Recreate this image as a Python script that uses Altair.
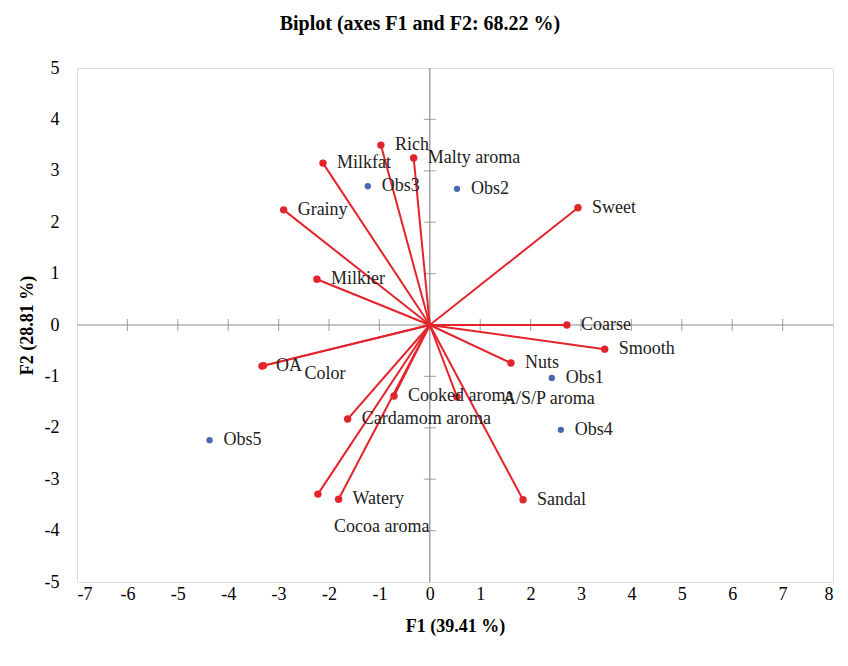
import altair as alt
import pandas as pd

# Variables (red vectors)
var_names = ["Rich", "Malty aroma", "Milkfat", "Grainy", "Milkier", "Sweet", "Coarse",
             "Smooth", "Nuts", "A/S/P aroma", "Cooked aroma", "Cardamom aroma", "OA",
             "Color", "Watery", "Cocoa aroma", "Sandal"]
var_f1 = [-0.97, -0.32, -2.12, -2.90, -2.24, 2.94, 2.72, 3.47, 1.61, 0.54, -0.71, -1.63,
          -3.33, -3.30, -1.81, -2.22, 1.85]
var_f2 = [3.50, 3.25, 3.15, 2.24, 0.89, 2.28, 0.00, -0.47, -0.74, -1.40, -1.38, -1.83,
          -0.80, -0.79, -3.39, -3.29, -3.40]

# Observations (blue points)
obs_names = ["Obs1", "Obs2", "Obs3", "Obs4", "Obs5"]
obs_f1 = [2.42, 0.54, -1.23, 2.60, -4.37]
obs_f2 = [-1.03, 2.65, 2.70, -2.04, -2.24]

x_ticks = list(range(-7, 9))
y_ticks = list(range(-5, 6))
inner_x_ticks = list(range(-6, 8))
inner_y_ticks = list(range(-4, 5))

# label placement tweaks (pixels) for crowded labels
label_shift = {"Color": (41, 8), "A/S/P aroma": (46, 2), "Cocoa aroma": (16, 33)}

FONT = "Liberation Serif"
RED = "#e3242b"
BLUE = "#4a68b0"
GRAY = "#8c8c8c"

var_df = pd.DataFrame({"name": var_names, "f1": var_f1, "f2": var_f2})
obs_df = pd.DataFrame({"name": obs_names, "f1": obs_f1, "f2": obs_f2})

xs = alt.Scale(domain=[-7, 8], nice=False, zero=False)
ys = alt.Scale(domain=[-5, 5], nice=False, zero=False)

X = alt.X("f1:Q", scale=xs, title="F1 (39.41 %)",
          axis=alt.Axis(values=x_ticks, grid=False, ticks=False, domain=False,
                        labelFont=FONT, labelFontSize=18, labelColor="black",
                        labelPadding=3, labelExpr="'' + datum.value",
                        titleFont=FONT, titleFontSize=18, titleFontWeight="bold",
                        titleColor="black", titlePadding=14))
Y = alt.Y("f2:Q", scale=ys, title="F2 (28.81 %)",
          axis=alt.Axis(values=y_ticks, grid=False, ticks=False, domain=False,
                        labelFont=FONT, labelFontSize=18, labelColor="black",
                        labelPadding=18, labelExpr="'' + datum.value",
                        titleFont=FONT, titleFontSize=18, titleFontWeight="bold",
                        titleColor="black", titlePadding=8))

zero_df = pd.DataFrame({"f1": [0], "f2": [0]})
zero_v = alt.Chart(zero_df).mark_rule(color=GRAY, strokeWidth=1.2).encode(x=X)
zero_h = alt.Chart(zero_df).mark_rule(color=GRAY, strokeWidth=1.2).encode(y=Y)

xt = alt.Chart(pd.DataFrame({"f1": inner_x_ticks, "f2": [0] * len(inner_x_ticks)})).mark_tick(
    color=GRAY, orient="vertical", size=12, thickness=1.2).encode(x=X, y=Y)
yt = alt.Chart(pd.DataFrame({"f2": inner_y_ticks, "f1": [0] * len(inner_y_ticks)})).mark_tick(
    color=GRAY, orient="horizontal", size=12, thickness=1.2).encode(x=X, y=Y)

base_v = alt.Chart(var_df)
vectors = base_v.mark_rule(color=RED, strokeWidth=2).encode(
    x=X, y=Y, x2=alt.datum(0), y2=alt.datum(0))
var_pts = base_v.mark_circle(color=RED, size=55, opacity=1).encode(x=X, y=Y)

obs_pts = alt.Chart(obs_df).mark_circle(color=BLUE, size=40, opacity=1).encode(x=X, y=Y)

label_layers = []
normal = [n for n in var_names if n not in label_shift]
label_layers.append(
    alt.Chart(var_df).transform_filter(alt.FieldOneOfPredicate(field="name", oneOf=normal))
    .mark_text(font=FONT, fontSize=18, align="left", baseline="middle", dx=14, color="#222")
    .encode(x=X, y=Y, text="name:N"))
for nm, (dx, dy) in label_shift.items():
    label_layers.append(
        alt.Chart(var_df).transform_filter(alt.datum.name == nm)
        .mark_text(font=FONT, fontSize=18, align="left", baseline="middle", dx=dx, dy=dy,
                   color="#222")
        .encode(x=X, y=Y, text="name:N"))
obs_labels = alt.Chart(obs_df).mark_text(font=FONT, fontSize=18, align="left",
                                          baseline="middle", dx=14, color="#222").encode(
    x=X, y=Y, text="name:N")

chart = alt.layer(zero_v, zero_h, xt, yt, vectors, var_pts, obs_pts, *label_layers,
                  obs_labels).properties(
    width=756, height=514,
    title=alt.TitleParams("Biplot (axes F1 and F2: 68.22 %)", font=FONT, fontSize=20,
                          fontWeight="bold", color="black", offset=25, dx=-35),
    autosize=alt.AutoSizeParams(type="none"),
    padding={"left": 69, "top": 60, "right": 7, "bottom": 84},
).configure_view(stroke=GRAY, strokeWidth=2).configure_axis(
    labelFont=FONT, labelFontSize=18, labelColor="black",
    titleFont=FONT, titleFontSize=18, titleFontWeight="bold", titleColor="black"
).configure(background="white", font=FONT)

chart.save("out.html", embed_options={"renderer": "svg", "actions": False})
